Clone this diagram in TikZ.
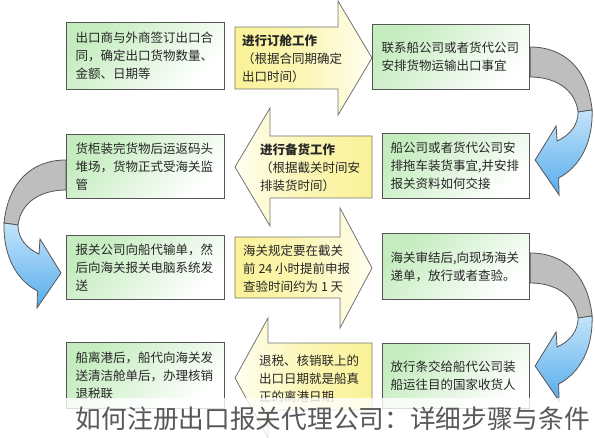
\documentclass[tikz,border=0pt]{standalone}
\usepackage{fontspec}
\setmainfont{Noto Sans CJK SC}
\usetikzlibrary{positioning}
\definecolor{boxgreen}{RGB}{196,236,190}
\definecolor{boxline}{RGB}{85,85,85}
\definecolor{boxyellow}{RGB}{250,242,150}
\definecolor{ivory}{RGB}{255,254,240}
\definecolor{bandgray}{RGB}{190,190,190}
\definecolor{bandtop}{RGB}{196,228,250}
\definecolor{bandbottom}{RGB}{86,172,236}
\tikzstyle{task}=[
	rectangle,
	draw=boxline,
	line width=1.1bp,
	top color=boxgreen,
	bottom color=white,
	shading angle=45,
	anchor=north west,
	align=left,
	inner xsep=9bp,
	text=black!85,
	font=\fontsize{12.5bp}{18bp}\selectfont
]
\tikzstyle{note}=[
	anchor=west,
	align=left,
	inner sep=0pt,
	text=black!85,
	font=\fontsize{12.5bp}{18bp}\selectfont
]
\tikzstyle{forward}=[
	draw=black!55,
	line width=0.8bp,
	left color=boxyellow,
	right color=ivory,
	middle color=boxyellow!70!white
]
\tikzstyle{backward}=[
	draw=black!55,
	line width=0.8bp,
	right color=boxyellow,
	left color=ivory,
	middle color=boxyellow!70!white
]
\tikzstyle{heading}=[
	text=black!65,
	font=\fontsize{25.7bp}{30bp}\selectfont
]
\tikzset{
	turnarrow/.pic={
		\draw[draw=boxline, line width=0.8bp, fill=bandgray]
			(0,0) .. controls (35,0) and (58,23) .. (62,63) -- (48,65)
			.. controls (45,42) and (25,30) .. (0,30) -- cycle;
		\draw[draw=boxline, line width=0.8bp, top color=bandtop, bottom color=bandbottom]
			(62,63) .. controls (63,95) and (50,120) .. (28.5,131) -- (29,148) -- (5,113)
			-- (26,79) -- (27,94) .. controls (40,88) and (48,78) .. (48,65) -- cycle;
	}
}

\begin{document}
\begin{tikzpicture}[x=1bp, y=-1bp]
\useasboundingbox (0,0) rectangle (595,438);

% block arrows between the columns
\draw[forward] (235,27) -- (338,27) -- (338,1) -- (372,58) -- (338,115) -- (338,89) -- (235,89) -- cycle;
\draw[backward] (372,136) -- (270,136) -- (270,108) -- (235,167) -- (270,226) -- (270,198) -- (372,198) -- cycle;
\draw[forward] (235,237) -- (340,237) -- (340,208) -- (372,268) -- (340,328) -- (340,298) -- (235,298) -- cycle;
\draw[backward] (372,343) -- (268,343) -- (268,318) -- (235,378) -- (268,438) -- (268,410) -- (372,410) -- cycle;

\node[task, text width=140bp, minimum height=67bp] (contract) at (66,22)
	{出口商与外商签订出口合\\同，确定出口货物数量、\\金额、日期等};
\node[note] (booking) at (242,59)
	{\textbf{进行订舱工作}\\（根据合同期确定\\出口时间）};
\node[task, text width=139bp, minimum height=65bp] (carrier) at (372,24)
	{联系船公司或者货代公司\\安排货物运输出口事宜};

\node[task, text width=131bp, inner xsep=8bp, minimum height=65bp] (trailer) at (382,133)
	{船公司或者货代公司安\\排拖车装货事宜,并安排\\报关资料如何交接};
\node[note] (stocking) at (260,168)
	{\textbf{进行备货工作}\\（根据截关时间安\\排装货时间）};
\node[task, text width=140bp, minimum height=64bp] (yard) at (66,134)
	{货柜装完货物后运返码头\\堆场，货物正式受海关监\\管};

\node[task, text width=140bp, minimum height=64bp] (manifest) at (66,235)
	{报关公司向船代输单，然\\后向海关报关电脑系统发\\送};
\node[note] (cutoff) at (243,269)
	{海关规定要在截关\\前 24 小时提前申报\\查验时间约为 1 天};
\node[task, text width=131bp, inner xsep=8bp, minimum height=66bp] (release) at (382,233)
	{海关审结后,向现场海关\\递单，放行或者查验。};

\node[task, text width=131bp, inner xsep=8bp, minimum height=65bp] (delivery) at (382,343)
	{放行条交给船代公司装\\船运往目的国家收货人};
\node[note] (refund) at (259,379)
	{退税、核销联上的\\出口日期就是船真\\正的离港日期};
\node[task, text width=140bp, minimum height=66bp] (departure) at (66,342)
	{船离港后，船代向海关发\\送清洁舱单后，办理核销\\退税联};

% turning arrows at the row ends
\pic at ([yshift=-23bp]carrier.north east) {turnarrow};
\pic[xscale=-1] at ([yshift=-26bp]yard.north west) {turnarrow};
\pic at ([yshift=-20bp]release.north east) {turnarrow};

\fill[white, opacity=0.8] (0,398) rectangle (595,438);
\node[heading] (title) at (333,419) {如何注册出口报关代理公司：详细步骤与条件};
\end{tikzpicture}
\end{document}
